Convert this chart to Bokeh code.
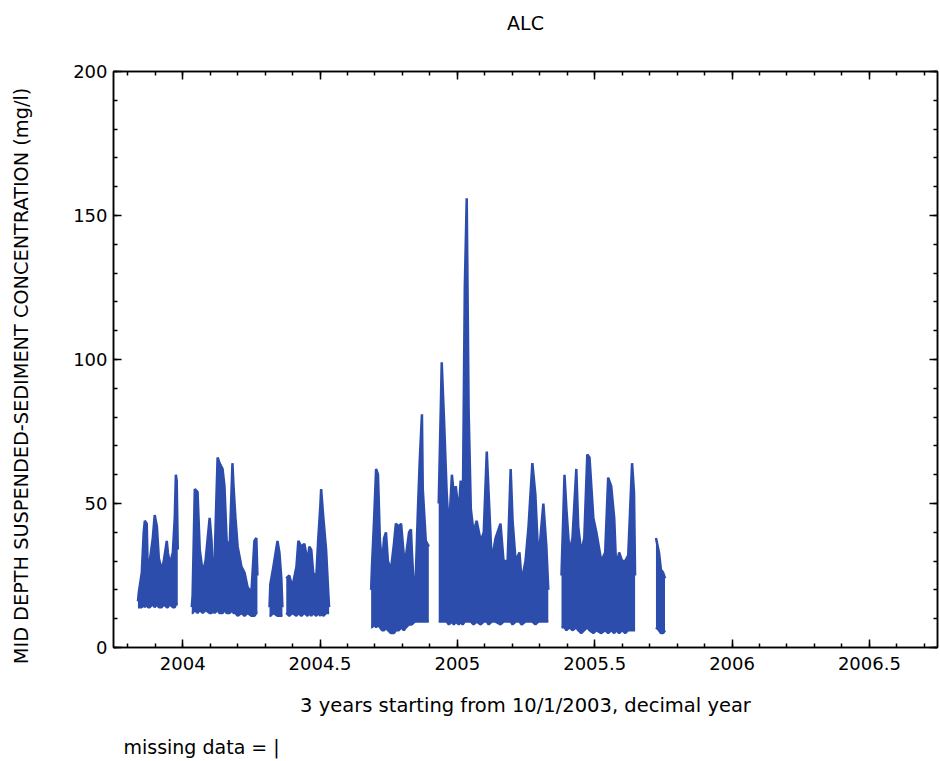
import numpy as np
from bokeh.plotting import figure
from bokeh.models import Range1d, LinearAxis, FixedTicker, SingleIntervalTicker
from bokeh.embed import file_html
from bokeh.resources import INLINE

# ---------------- data ----------------
station = "ALC"
x_label = "3 years starting from 10/1/2003, decimal year"
y_label = "MID DEPTH SUSPENDED-SEDIMENT CONCENTRATION (mg/l)"
note = "missing data = |"

x_ticks = [2004, 2004.5, 2005, 2005.5, 2006, 2006.5]
x_tick_labels = ["2004", "2004.5", "2005", "2005.5", "2006", "2006.5"]

# decimal year; None marks a gap (missing data)
t = [
    2003.837, 2003.840, 2003.851, 2003.858, 2003.862, 2003.869, 2003.874, 2003.880,
    2003.891, 2003.898, 2003.906, 2003.913, 2003.924, 2003.931, 2003.942, 2003.946,
    2003.953, 2003.964, 2003.971, 2003.975, 2003.978, 2003.982, None,
    2004.033, 2004.036, 2004.044, 2004.054, 2004.062, 2004.073, 2004.083, 2004.098,
    2004.105, 2004.109, 2004.116, 2004.127, 2004.134, 2004.145, 2004.152, 2004.160,
    2004.171, 2004.181, 2004.185, 2004.192, 2004.200, 2004.214, 2004.225, 2004.236,
    2004.250, 2004.261, 2004.268, 2004.272, None,
    2004.316, 2004.319, 2004.330, 2004.345, 2004.352, 2004.359, 2004.363, None,
    2004.377, 2004.388, 2004.399, 2004.414, 2004.421, 2004.432, 2004.443, 2004.454,
    2004.461, 2004.468, 2004.475, 2004.486, 2004.493, 2004.501, 2004.504, 2004.512,
    2004.522, 2004.530, 2004.533, None,
    2004.686, 2004.689, 2004.697, 2004.704, 2004.711, 2004.718, 2004.726, 2004.733,
    2004.740, 2004.747, 2004.758, 2004.769, 2004.776, 2004.787, 2004.795, 2004.805,
    2004.813, 2004.824, 2004.831, 2004.834, 2004.845, 2004.856, 2004.863, 2004.871,
    2004.874, 2004.885, 2004.896, None,
    2004.932, 2004.940, 2004.943, 2004.951, 2004.961, 2004.969, 2004.980, 2004.987,
    2004.994, 2005.005, 2005.012, 2005.019, 2005.027, 2005.034, 2005.041, 2005.049,
    2005.059, 2005.070, 2005.085, 2005.096, 2005.107, 2005.114, 2005.125, 2005.139,
    2005.157, 2005.168, 2005.183, 2005.194, 2005.201, 2005.212, 2005.226, 2005.234,
    2005.248, 2005.259, 2005.273, 2005.284, 2005.295, 2005.313, 2005.324, 2005.331, None,
    2005.379, 2005.390, 2005.397, 2005.408, 2005.419, 2005.433, 2005.440, 2005.451,
    2005.462, 2005.473, 2005.481, 2005.495, 2005.506, 2005.524, 2005.538, 2005.549,
    2005.560, 2005.571, 2005.578, 2005.589, 2005.600, 2005.611, 2005.622, 2005.636,
    2005.643, 2005.647, None,
    2005.723, 2005.734, 2005.741, 2005.749, 2005.756,
]

# upper envelope of the concentration trace (mg/l)
conc_high = [
    16, 19, 26, 40, 44, 43, 21, 30, 38, 46, 42, 31, 27, 30, 37, 33,
    29, 33, 45, 60, 58, 34, None,
    14, 18, 55, 54, 34, 26, 30, 45, 37, 26, 30, 66, 64, 62, 56, 37,
    35, 64, 56, 45, 35, 28, 26, 21, 19, 37, 38, 25, None,
    14, 22, 28, 37, 33, 24, 14, None,
    24, 25, 21, 28, 37, 35, 36, 30, 35, 34, 26, 24, 37, 49, 55, 45,
    34, 19, 14, None,
    20, 28, 45, 62, 60, 37, 29, 38, 40, 30, 27, 36, 43, 42, 43, 32,
    32, 40, 41, 34, 14, 47, 65, 81, 55, 37, 35, None,
    50, 85, 99, 80, 54, 40, 60, 53, 56, 47, 58, 40, 125, 156, 82, 48,
    40, 44, 37, 40, 68, 53, 30, 38, 43, 30, 30, 62, 44, 30, 33, 23,
    30, 42, 64, 53, 30, 50, 35, 20, None,
    25, 60, 48, 33, 38, 62, 42, 33, 38, 67, 66, 45, 40, 30, 33, 59,
    56, 45, 28, 33, 30, 30, 32, 64, 54, 25, None,
    38, 33, 27, 26, 24,
]

# lower envelope of the concentration trace (mg/l)
conc_low = [
    14, 14, 14, 15, 14, 15, 14, 14, 15, 14, 15, 14, 14, 15, 14, 14,
    15, 14, 14, 15, 15, 15, None,
    12, 12, 13, 12, 13, 12, 13, 12, 12, 13, 12, 13, 12, 12, 13, 12,
    12, 13, 12, 12, 11, 12, 11, 12, 11, 11, 12, 12, None,
    11, 11, 12, 11, 11, 11, 11, None,
    12, 11, 12, 11, 12, 11, 12, 11, 12, 11, 12, 11, 12, 11, 12, 11,
    12, 12, 12, None,
    7, 7, 8, 7, 8, 7, 6, 6, 7, 6, 5, 5, 6, 6, 7, 6,
    7, 8, 8, 8, 9, 9, 9, 9, 9, 9, 9, None,
    9, 9, 9, 9, 9, 8, 9, 8, 9, 8, 9, 8, 9, 9, 9, 9,
    8, 9, 8, 9, 9, 8, 9, 9, 8, 9, 9, 9, 8, 9, 9, 8,
    9, 9, 9, 8, 9, 9, 9, 9, None,
    7, 7, 6, 7, 6, 7, 6, 5, 6, 7, 6, 5, 6, 5, 6, 5,
    6, 5, 6, 5, 6, 5, 6, 6, 6, 6, None,
    7, 6, 5, 5, 6,
]

# ---------------- layout ----------------
BLUE = "#2d4dad"
FONT = "DejaVu Sans"

W, H = 940, 760
FL, FT, FB, FR = 113, 71, 648, 937          # frame edges on the page
X0, X1, Y0, Y1 = 2003.748, 2006.748, 0, 200

def page_to_x(px):
    return round(X0 + (px - FL) / (FR - FL) * (X1 - X0), 4)

def page_to_y(py):
    return round(Y0 + (FB - py) / (FB - FT) * (Y1 - Y0), 3)

p = figure(width=W, height=H, output_backend="svg", toolbar_location=None,
           x_range=Range1d(X0, X1), y_range=Range1d(Y0, Y1),
           min_border_left=FL, min_border_right=W - FR, min_border_top=FT,
           min_border_bottom=H - FB, x_axis_location=None, y_axis_location=None)
p.background_fill_color = "white"
p.border_fill_color = "white"
p.outline_line_color = "black"
p.outline_line_width = 1.5
p.xgrid.visible = False
p.ygrid.visible = False

tx = np.array([np.nan if v is None else v for v in t], dtype=float)
th = np.array([np.nan if v is None else v for v in conc_high], dtype=float)
tl = np.array([np.nan if v is None else v for v in conc_low], dtype=float)

breaks = np.where(np.isnan(tx))[0]
starts = np.concatenate([[0], breaks + 1])
ends = np.concatenate([breaks, [len(tx)]])
for s, e in zip(starts, ends):
    p.varea(x=tx[s:e], y1=tl[s:e], y2=th[s:e], fill_color=BLUE)
p.line(tx, th, line_color=BLUE, line_width=2.5)
p.line(tx, tl, line_color=BLUE, line_width=2.5)

minor_x = list(np.round(np.arange(2003.8, 2006.75, 0.1), 1))
xt = FixedTicker(ticks=x_ticks, minor_ticks=minor_x)
yt = SingleIntervalTicker(interval=50, num_minor_ticks=5)

def style(ax, labels=True):
    ax.axis_line_color = "black"
    ax.axis_line_width = 1.5
    ax.major_tick_line_color = "black"
    ax.minor_tick_line_color = "black"
    ax.major_tick_line_width = 1.5
    ax.minor_tick_line_width = 1.5
    ax.major_tick_in = 8
    ax.major_tick_out = 0
    ax.minor_tick_in = 4
    ax.minor_tick_out = 0
    if labels:
        ax.major_label_text_font = FONT
        ax.major_label_text_font_size = "18px"
        ax.major_label_text_color = "black"
    else:
        ax.major_label_text_color = None
        ax.major_label_text_alpha = 0
        ax.major_label_text_font_size = "1px"
        ax.major_label_standoff = 0

def text_only(ax, ticker, text, font_size, standoff, orientation="horizontal"):
    # an axis with no line and no ticks whose single tick label carries a text
    ax.ticker = ticker
    ax.axis_line_color = None
    ax.major_tick_line_color = None
    ax.minor_tick_line_color = None
    ax.major_label_overrides = {ticker.ticks[0]: text}
    ax.major_label_text_font = FONT
    ax.major_label_text_font_size = font_size
    ax.major_label_text_color = "black"
    ax.major_label_standoff = standoff
    ax.major_label_orientation = orientation

# bottom axis with tick labels and axis label
xb = LinearAxis(ticker=xt, axis_label=x_label)
xb.major_label_overrides = dict(zip(x_ticks, x_tick_labels))
style(xb)
xb.major_label_standoff = 9
xb.axis_label_text_font = FONT
xb.axis_label_text_font_size = "19.5px"
xb.axis_label_text_font_style = "normal"
xb.axis_label_text_color = "black"
xb.axis_label_standoff = 21
p.add_layout(xb, "below")

# "missing data = |" line under the axis label (label centred on its tick)
NOTE_PX = 19
note_width = 8.22 * NOTE_PX            # DejaVu Sans advance of the note, in px
xn = LinearAxis()
text_only(xn, FixedTicker(ticks=[page_to_x(123 + note_width / 2)], minor_ticks=[]),
          note, f"{NOTE_PX}px", 10)
p.add_layout(xn, "below")

# top axis (ticks only) with the station name above it
xa = LinearAxis(ticker=xt, axis_label=station)
style(xa, labels=False)
xa.axis_label_text_font = FONT
xa.axis_label_text_font_size = "19px"
xa.axis_label_text_font_style = "normal"
xa.axis_label_text_color = "black"
xa.axis_label_standoff = 38
p.add_layout(xa, "above")

# left axis with tick labels
yl = LinearAxis(ticker=yt)
style(yl)
yl.major_label_standoff = 6
p.add_layout(yl, "left")

# rotated y-axis title, centred where the reference has it
yn = LinearAxis()
text_only(yn, FixedTicker(ticks=[page_to_y(376)], minor_ticks=[]), y_label,
          "19.3px", 31, orientation="vertical")
p.add_layout(yn, "left")

# right axis (ticks only)
yr = LinearAxis(ticker=yt)
style(yr, labels=False)
p.add_layout(yr, "right")

open("out.html", "w").write(file_html(p, INLINE))
